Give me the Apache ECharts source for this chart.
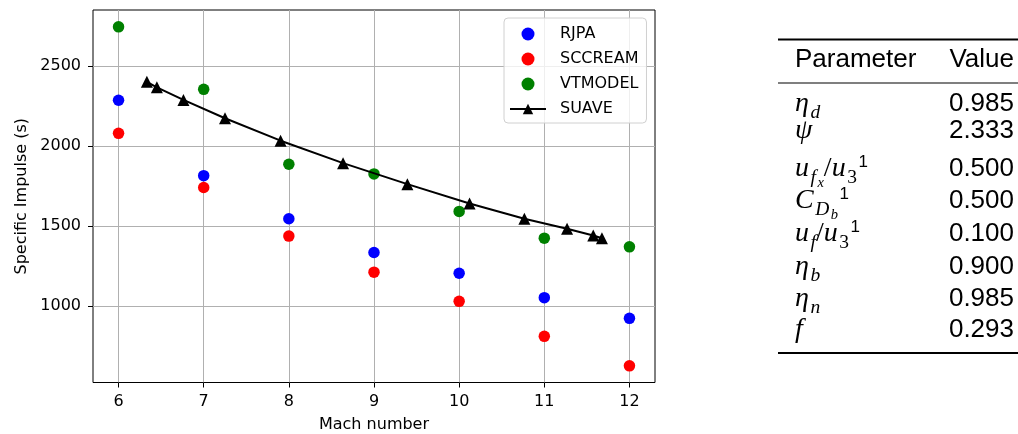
<!DOCTYPE html>
<html><head><meta charset="utf-8">
<script src="https://cdn.jsdelivr.net/npm/echarts@6/dist/echarts.min.js"></script>
<style>html,body{margin:0;padding:0;background:#fff}#c{width:1018px;height:434px}</style>
</head><body><div id="c"></div>
<script>
// ---- data ----
const machNumbers = [6, 7, 8, 9, 10, 11, 12];
const rjpa    = [2285, 1815, 1546, 1336, 1206, 1054, 925];
const sccream = [2079, 1741, 1438, 1213, 1031, 813, 629];
const vtmodel = [2743, 2353, 1886, 1826, 1592, 1425, 1371];
const suaveMach = [6.333, 6.45, 6.762, 7.25, 7.903, 8.637, 9.392, 10.122, 10.766, 11.267, 11.575, 11.677];
const suaveIsp  = [2400, 2366, 2287, 2173, 2033, 1893, 1762, 1641, 1546, 1484, 1442, 1425];
const xTicks = [6, 7, 8, 9, 10, 11, 12];
const yTicks = [1000, 1500, 2000, 2500];
const tableHeader = ['Parameter', 'Value'];
const paramNames  = ['η_d', 'ψ', 'u_{f_x}/u_3^1', 'C_{D_b}^1', 'u_f/u_3^1', 'η_b', 'η_n', 'f'];
const paramValues = ['0.985', '2.333', '0.500', '0.500', '0.100', '0.900', '0.985', '0.293'];

// ---- layout / style ----
const FONT = '"DejaVu Sans"';
const TFS = 26;
const TAB = { left: 795, right: 1014, ruleL: 778, ruleR: 1018, topRule: 39.5, head: 60, midRule: 83,
  rows: [104, 131, 169, 201, 234, 267, 299, 330], bottomRule: 353 };
const SZ = { '0': 28, '-1': 19.5, '-2': 14.5, '1': 17 };
const SHIFT = { '0': 0, '-1': 6, '-2': 10, '1': -10 };

const mctx = document.createElement('canvas').getContext('2d');
function tw(font, s) { mctx.font = font; return mctx.measureText(s).width; }

function parseTex(s) {
  const out = [];
  function parse(str, level) {
    let i = 0;
    while (i < str.length) {
      const c = str[i];
      if (c === '_' || c === '^') {
        const lv = c === '_' ? (level <= -1 ? level - 1 : -1) : 1;
        i++;
        let grp;
        if (str[i] === '{') {
          let depth = 1, j = i + 1;
          while (depth) { if (str[j] === '{') depth++; else if (str[j] === '}') depth--; j++; }
          grp = str.slice(i + 1, j - 1); i = j;
        } else { grp = str[i]; i++; }
        parse(grp, lv);
      } else { out.push({ ch: c, level: level }); i++; }
    }
  }
  parse(s, 0);
  return out;
}

function mathElems(src, x0, baseline) {
  const runs = [];
  parseTex(src).forEach(t => {
    const kind = t.level === 1 ? 'sup' : (/[0-9\/]/.test(t.ch) ? 'up' : 'it');
    const last = runs[runs.length - 1];
    if (last && last.level === t.level && last.kind === kind) last.text += t.ch;
    else runs.push({ text: t.ch, level: t.level, kind: kind });
  });
  let x = x0;
  const els = [];
  runs.forEach((r, k) => {
    const size = SZ[String(r.level)];
    const fam = r.kind === 'sup' ? '"Liberation Sans"' : '"Liberation Serif"';
    const font = (r.kind === 'it' ? 'italic ' : '') + size + 'px ' + fam;
    const mid = (r.kind === 'sup' ? 0.3465 : 0.3375) * size;
    els.push({ type: 'text', x: x, y: baseline + SHIFT[String(r.level)] - mid,
      style: { text: r.text, font: font, fill: '#000', align: 'left', verticalAlign: 'middle' } });
    x += tw(font, r.text);
    const nxt = runs[k + 1];
    if (nxt && nxt.kind === 'sup') x += 1.5;
    else if (nxt && nxt.level < r.level && r.kind === 'it') x += 1.5;
  });
  return els;
}

const tfont = TFS + 'px "Liberation Sans"';
const graphics = [
  { type: 'line', shape: { x1: TAB.ruleL, y1: TAB.topRule, x2: TAB.ruleR, y2: TAB.topRule }, style: { stroke: '#000', lineWidth: 2 } },
  { type: 'line', shape: { x1: TAB.ruleL, y1: TAB.midRule, x2: TAB.ruleR, y2: TAB.midRule }, style: { stroke: '#000', lineWidth: 1.2 } },
  { type: 'line', shape: { x1: TAB.ruleL, y1: TAB.bottomRule, x2: TAB.ruleR, y2: TAB.bottomRule }, style: { stroke: '#000', lineWidth: 2 } },
  { type: 'text', x: TAB.left, y: TAB.head, style: { text: tableHeader[0], font: tfont, fill: '#000', align: 'left', verticalAlign: 'middle' } },
  { type: 'text', x: TAB.right, y: TAB.head, style: { text: tableHeader[1], font: tfont, fill: '#000', align: 'right', verticalAlign: 'middle' } }
];
paramNames.forEach((n, i) => {
  const yc = TAB.rows[i];
  graphics.push(...mathElems(n, TAB.left, yc + 0.3465 * TFS));
  graphics.push({ type: 'text', x: TAB.right, y: yc, style: { text: paramValues[i], font: tfont, fill: '#000', align: 'right', verticalAlign: 'middle' } });
});

const pairs = (xs, ys) => xs.map((x, i) => [x, ys[i]]);

const axisBase = {
  type: 'value',
  nameLocation: 'middle',
  axisLine: { show: false },
  nameTextStyle: { color: '#000', fontFamily: FONT, fontSize: 16 },
  splitLine: { show: true, lineStyle: { color: '#b0b0b0', width: 1 } }
};

const chart = echarts.init(document.getElementById('c'));
chart.setOption({
  animation: false,
  backgroundColor: '#fff',
  grid: { left: 93, top: 10, right: 363, bottom: 51.5, show: true, borderColor: '#000', borderWidth: 1,
    backgroundColor: 'transparent', containLabel: false, outerBoundsMode: 'none' },
  xAxis: Object.assign({}, axisBase, {
    min: 5.7, max: 12.3, name: 'Mach number', nameGap: 34,
    axisTick: { show: true, inside: false, length: 5, lineStyle: { color: '#000', width: 1 }, customValues: xTicks },
    axisLabel: { color: '#000', fontFamily: FONT, fontSize: 16, margin: 11, customValues: xTicks, formatter: v => String(v) }
  }),
  yAxis: Object.assign({}, axisBase, {
    min: 525, max: 2848, name: 'Specific Impulse (s)', nameGap: 63,
    axisTick: { show: true, inside: false, length: 5, lineStyle: { color: '#000', width: 1 }, customValues: yTicks },
    axisLabel: { color: '#000', fontFamily: FONT, fontSize: 16, margin: 12, customValues: yTicks, formatter: v => String(v) }
  }),
  legend: {
    orient: 'vertical', left: 504, top: 18, itemWidth: 36, itemHeight: 13, itemGap: 7,
    padding: [7, 8, 5, 5], backgroundColor: 'rgba(255,255,255,0.8)', borderColor: '#d0d0d0', borderWidth: 1, borderRadius: 4,
    textStyle: { fontFamily: FONT, fontSize: 16, color: '#000', lineHeight: 18, padding: [0, 0, 0, 9] },
    data: [{ name: 'RJPA', icon: 'circle' }, { name: 'SCCREAM', icon: 'circle' }, { name: 'VTMODEL', icon: 'circle' }, { name: 'SUAVE' }]
  },
  series: [
    { name: 'RJPA', type: 'scatter', data: pairs(machNumbers, rjpa), symbol: 'circle', symbolSize: 11.5, itemStyle: { color: '#0000ff', opacity: 1 } },
    { name: 'SCCREAM', type: 'scatter', data: pairs(machNumbers, sccream), symbol: 'circle', symbolSize: 11.5, itemStyle: { color: '#ff0000', opacity: 1 } },
    { name: 'VTMODEL', type: 'scatter', data: pairs(machNumbers, vtmodel), symbol: 'circle', symbolSize: 11.5, itemStyle: { color: '#008000', opacity: 1 } },
    { name: 'SUAVE', type: 'line', data: pairs(suaveMach, suaveIsp), symbol: 'triangle', symbolSize: 12, showSymbol: true,
      lineStyle: { color: '#000', width: 2 }, itemStyle: { color: '#000' } }
  ],
  graphic: { elements: graphics }
});
</script>
</body></html>
